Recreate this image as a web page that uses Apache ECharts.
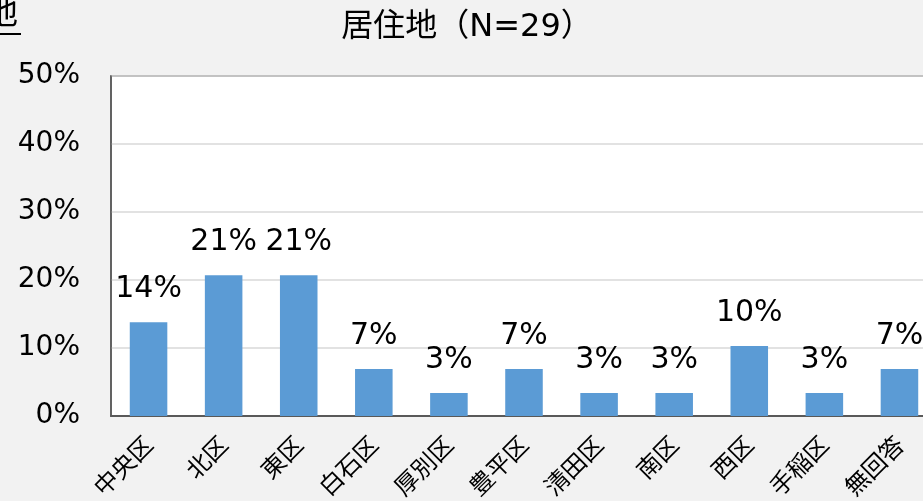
<!DOCTYPE html>
<html><head><meta charset="utf-8">
<script src="https://cdn.jsdelivr.net/npm/echarts@6/dist/echarts.min.js"></script>
<style>html,body{margin:0;padding:0;background:#f2f2f2;}#c{width:923px;height:501px;}</style>
</head><body><div id="c"></div>
<script>
const categories = ['中央区','北区','東区','白石区','厚別区','豊平区','清田区','南区','西区','手稲区','無回答'];
const values = [13.8, 20.7, 20.7, 6.9, 3.4, 6.9, 3.4, 3.4, 10.3, 3.4, 6.9];
const yTicks = [0, 10, 20, 30, 40, 50];
const titleText = '居住地（N=29）';
const FONT = '"DejaVu Sans", "Noto Sans CJK JP", sans-serif';
const CJK = '"Noto Sans CJK JP", sans-serif';

const chart = echarts.init(document.getElementById('c'), null, {renderer: 'canvas'});
chart.setOption({
  backgroundColor: '#f2f2f2',
  animation: false,
  title: {
    text: titleText, left: 462, top: 7, textAlign: 'center',
    textStyle: {fontFamily: FONT, fontSize: 32, fontWeight: 'normal', color: '#000'}
  },
  graphic: [
    {type: 'text', left: -16, top: -6, style: {text: '地', font: '34px "Noto Sans CJK JP"', fill: '#000'}},
    {type: 'line', shape: {x1: 0, y1: 34, x2: 21, y2: 34}, style: {stroke: '#000', lineWidth: 2}}
  ],
  grid: {left: 111, top: 76, bottom: 85, right: -14, outerBoundsMode: 'none', containLabel: false,
    show: true, backgroundColor: '#fff', borderColor: '#595959', borderWidth: 1.5},
  xAxis: {
    type: 'category', data: categories,
    axisLine: {show: true, lineStyle: {color: '#595959', width: 2}},
    axisTick: {show: false},
    axisLabel: {rotate: 45, fontFamily: CJK, fontSize: 24, color: '#000', margin: 24, interval: 0}
  },
  yAxis: {
    type: 'value', min: 0, max: yTicks[yTicks.length - 1], interval: 10,
    axisLine: {show: true, lineStyle: {color: '#595959', width: 1.5}},
    axisTick: {show: false},
    splitLine: {lineStyle: {color: '#d9d9d9', width: 1.5}},
    axisLabel: {formatter: v => v + '%', fontFamily: FONT, fontSize: 28, color: '#000', margin: 31}
  },
  series: [{
    type: 'bar', data: values, barWidth: '50%',
    itemStyle: {color: '#5b9bd5'},
    label: {show: true, position: 'top', distance: 18, formatter: p => Math.round(p.value) + '%',
      fontFamily: FONT, fontSize: 30, color: '#000'}
  }]
});
</script></body></html>
